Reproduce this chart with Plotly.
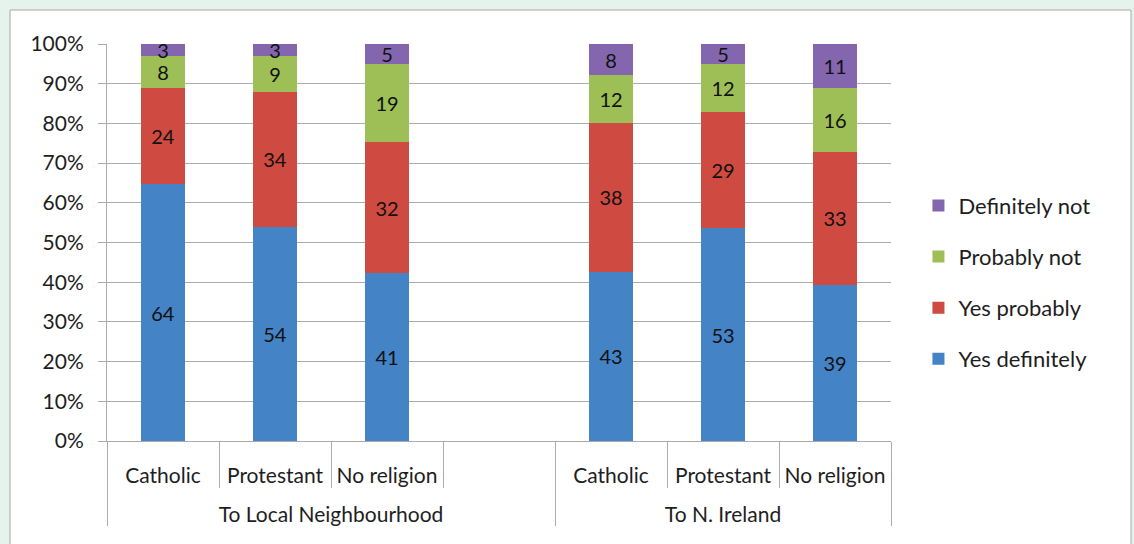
import plotly.graph_objects as go

group_names = ["To Local Neighbourhood", "To N. Ireland"]
groups = [group_names[0]] * 4 + [group_names[1]] * 3
religions = ["Catholic", "Protestant", "No religion", " ", "Catholic", "Protestant", "No religion"]

yes_definitely = [64, 54, 41, None, 43, 53, 39]
yes_probably = [24, 34, 32, None, 38, 29, 33]
probably_not = [8, 9, 19, None, 12, 12, 16]
definitely_not = [3, 3, 5, None, 8, 5, 11]

y_ticks = list(range(0, 101, 10))

series = [
    ("Yes definitely", yes_definitely, "#4383C6", 4),
    ("Yes probably", yes_probably, "#CF4A40", 3),
    ("Probably not", probably_not, "#9DBF55", 2),
    ("Definitely not", definitely_not, "#8466AE", 1),
]

FONT = "Lato, 'Open Sans', sans-serif"
GRID = "#ABABAB"
TXT = "#1E1E1E"

# group labels pushed down a row to sit below the category labels
x_outer = ["<br>" + g for g in groups]

fig = go.Figure()
for name, vals, color, rank in series:
    fig.add_trace(go.Bar(
        x=[x_outer, religions],
        y=vals,
        name=name,
        legendgroup=name,
        legendrank=rank,
        marker=dict(color=color, line=dict(width=0)),
        width=0.4,
        text=[("" if v is None else str(v)) for v in vals],
        texttemplate="%{text}",
        textposition="inside",
        insidetextanchor="middle",
        constraintext="none",
        textangle=0,
        textfont=dict(color="#111111", size=20, family=FONT),
        cliponaxis=False,
    ))

L, R, T, B = 107, 243, 44, 103
W, H = 1134, 544
pw, ph = W - L - R, H - T - B

fig.add_shape(
    type="rect", xref="paper", yref="paper", layer="below",
    x0=(10 - L) / pw, x1=(1131 - L) / pw,
    y0=(H - B - 560) / ph, y1=(H - B - 10) / ph,
    fillcolor="white", line=dict(color="#A8A8A8", width=1),
)

fig.update_layout(
    width=W, height=H,
    margin=dict(l=L, r=R, t=T, b=B, autoexpand=False),
    barmode="stack",
    barnorm="percent",
    paper_bgcolor="#E6F2EC",
    plot_bgcolor="rgba(0,0,0,0)",
    font=dict(family=FONT, size=22, color=TXT),
    showlegend=True,
    legend=dict(
        x=1.035, xanchor="left", y=0.40, yanchor="middle",
        traceorder="grouped", tracegroupgap=19.5,
        font=dict(size=22, family=FONT, color=TXT),
        bgcolor="rgba(0,0,0,0)",
    ),
)

fig.update_yaxes(
    range=[0, 100.0001], tickmode="array", tickvals=y_ticks,
    ticktext=[f"{v}%" for v in y_ticks],
    showgrid=True, gridcolor=GRID, gridwidth=1,
    showline=True, linecolor=GRID, linewidth=1,
    ticks="outside", ticklen=8, tickcolor=GRID,
    ticklabelstandoff=10,
    zeroline=False, automargin=False,
    tickfont=dict(size=21, family=FONT, color=TXT),
)
fig.update_xaxes(
    type="multicategory",
    showline=True, linecolor=GRID, linewidth=1,
    ticks="outside", tickson="boundaries", ticklen=46, tickcolor=GRID,
    ticklabelstandoff=16, automargin=False, tickangle=0,
    showdividers=True, dividercolor=GRID, dividerwidth=1,
    tickfont=dict(size=21, family=FONT, color=TXT),
)

fig.write_html(
    "out.html",
    config={"displayModeBar": False},
    post_script="document.body.style.margin='0';document.body.style.overflow='hidden';",
)
